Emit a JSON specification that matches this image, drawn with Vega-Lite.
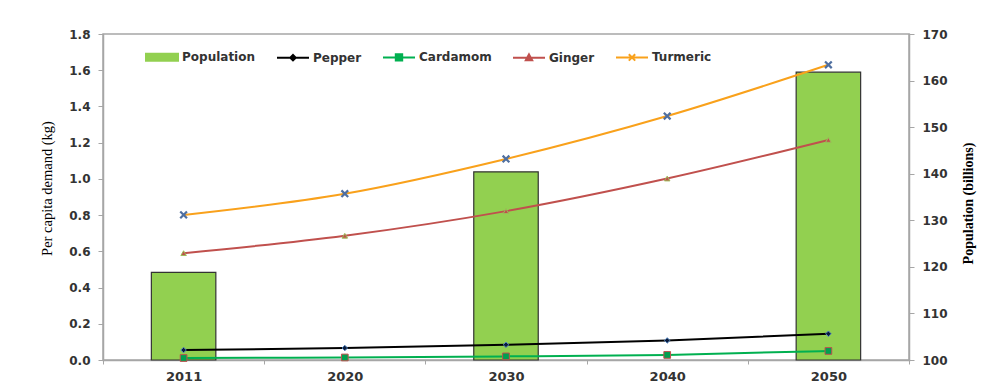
{
  "$schema": "https://vega.github.io/schema/vega-lite/v6.json",
  "autosize": "none",
  "width": 806,
  "height": 326,
  "padding": {"left": 103, "top": 34, "right": 87, "bottom": 29},
  "background": "white",
  "data": {
    "values": [
      {"year": "2011", "series": "Population", "value": 118.8},
      {"year": "2030", "series": "Population", "value": 140.4},
      {"year": "2050", "series": "Population", "value": 161.8},
      {"year": "2011", "series": "Pepper", "value": 0.055},
      {"year": "2020", "series": "Pepper", "value": 0.066},
      {"year": "2030", "series": "Pepper", "value": 0.084},
      {"year": "2040", "series": "Pepper", "value": 0.108},
      {"year": "2050", "series": "Pepper", "value": 0.145},
      {"year": "2011", "series": "Cardamom", "value": 0.011},
      {"year": "2020", "series": "Cardamom", "value": 0.014},
      {"year": "2030", "series": "Cardamom", "value": 0.02},
      {"year": "2040", "series": "Cardamom", "value": 0.028},
      {"year": "2050", "series": "Cardamom", "value": 0.05},
      {"year": "2011", "series": "Ginger", "value": 0.59},
      {"year": "2020", "series": "Ginger", "value": 0.686},
      {"year": "2030", "series": "Ginger", "value": 0.822},
      {"year": "2040", "series": "Ginger", "value": 1.002},
      {"year": "2050", "series": "Ginger", "value": 1.215},
      {"year": "2011", "series": "Turmeric", "value": 0.801},
      {"year": "2020", "series": "Turmeric", "value": 0.918},
      {"year": "2030", "series": "Turmeric", "value": 1.11},
      {"year": "2040", "series": "Turmeric", "value": 1.347},
      {"year": "2050", "series": "Turmeric", "value": 1.63}
    ]
  },
  "encoding": {
    "x": {
      "field": "year",
      "type": "nominal",
      "sort": ["2011", "2020", "2030", "2040", "2050"],
      "scale": {"domain": ["2011", "2020", "2030", "2040", "2050"], "paddingInner": 0, "paddingOuter": 0},
      "axis": {
        "title": null,
        "labelAngle": 0,
        "tickBand": "extent",
        "labelFont": "DejaVu Sans",
        "labelFontWeight": "bold",
        "labelFontSize": 13,
        "labelColor": "#333333",
        "labelPadding": 6,
        "domainColor": "#a6a6a6",
        "domainWidth": 1.5,
        "tickColor": "#a6a6a6",
        "tickSize": 4,
        "grid": false
      }
    },
    "color": {
      "field": "series",
      "type": "nominal",
      "scale": {
        "domain": ["Population", "Pepper", "Cardamom", "Ginger", "Turmeric"],
        "range": ["#92d050", "#000000", "#00b050", "#c0504d", "#f9a11b"]
      },
      "legend": {
        "title": null,
        "orient": "none",
        "direction": "horizontal",
        "legendX": 42,
        "legendY": 6,
        "padding": 0,
        "columnPadding": 17,
        "labelOffset": 3,
        "labelFont": "DejaVu Sans",
        "labelFontWeight": "bold",
        "labelFontSize": 12,
        "labelColor": "#333333",
        "symbolSize": 1024,
        "symbolStrokeWidth": 2,
        "symbolType": {"expr": "datum.value === 'Population' ? 'M-1,-0.22H1V0.22H-1Z' : datum.value === 'Pepper' ? 'M-1,0H1M0,-0.17L0.17,0L0,0.17L-0.17,0Z' : datum.value === 'Cardamom' ? 'M-1,0H1M-0.2,-0.2H0.2V0.2H-0.2Z' : datum.value === 'Ginger' ? 'M-1,0H1M0,-0.2L0.2,0.17H-0.2Z' : 'M-1,0H1M-0.2,-0.2L0.2,0.2M-0.2,0.2L0.2,-0.2'"}
      }
    }
  },
  "layer": [
    {
      "transform": [{"filter": "datum.series === 'Population'"}],
      "mark": {"type": "bar", "width": {"band": 0.4}, "stroke": "#333333", "strokeWidth": 1.2},
      "encoding": {
        "y": {
          "field": "value",
          "type": "quantitative",
          "scale": {"domain": [100, 170], "zero": false, "nice": false},
          "axis": {
            "orient": "right",
            "title": "Population (billions)",
            "values": [100, 110, 120, 130, 140, 150, 160, 170],
            "grid": false,
            "labelFont": "DejaVu Sans",
            "labelFontWeight": "bold",
            "labelFontSize": 12,
            "labelColor": "#333333",
            "labelPadding": 8,
            "domainColor": "#a6a6a6",
            "domainWidth": 1.5,
            "tickColor": "#a6a6a6",
            "tickSize": 5,
            "titleFont": "Liberation Serif",
            "titleFontSize": 14,
            "titleFontWeight": "bold",
            "titleColor": "#000000",
            "titleAngle": -90,
            "titleX": 59,
            "titleY": 169,
            "titleAlign": "center",
            "titleBaseline": "middle"
          }
        },
        "y2": {"datum": 100}
      }
    },
    {
      "transform": [{"filter": "datum.series !== 'Population'"}],
      "encoding": {
        "y": {
          "field": "value",
          "type": "quantitative",
          "scale": {"domain": [0, 1.8], "nice": false},
          "axis": {
            "orient": "left",
            "title": "Per capita demand (kg)",
            "values": [0, 0.2, 0.4, 0.6, 0.8, 1.0, 1.2, 1.4, 1.6, 1.8],
            "format": ".1f",
            "grid": false,
            "labelFont": "DejaVu Sans",
            "labelFontWeight": "bold",
            "labelFontSize": 12,
            "labelColor": "#333333",
            "labelPadding": 8,
            "domainColor": "#a6a6a6",
            "domainWidth": 1.5,
            "tickColor": "#a6a6a6",
            "tickSize": 5,
            "titleFont": "Liberation Serif",
            "titleFontSize": 14.5,
            "titleFontWeight": "normal",
            "titleColor": "#000000",
            "titleAngle": -90,
            "titleX": -56,
            "titleY": 154,
            "titleAlign": "center",
            "titleBaseline": "middle"
          }
        }
      },
      "layer": [
        {
          "mark": {"type": "line", "interpolate": "monotone", "strokeWidth": 2}
        },
        {
          "mark": {"type": "point", "filled": true, "opacity": 1, "strokeWidth": 1},
          "encoding": {
            "shape": {
              "condition": [
                {"test": "datum.series === 'Pepper'", "value": "diamond"},
                {"test": "datum.series === 'Cardamom'", "value": "square"},
                {"test": "datum.series === 'Ginger'", "value": "triangle-up"}
              ],
              "value": "M-1,-1L1,1M-1,1L1,-1"
            },
            "size": {
              "condition": [
                {"test": "datum.series === 'Pepper'", "value": 30},
                {"test": "datum.series === 'Cardamom'", "value": 45},
                {"test": "datum.series === 'Ginger'", "value": 30}
              ],
              "value": 45
            },
            "fill": {
              "condition": [
                {"test": "datum.series === 'Pepper'", "value": "#0a1a3a"},
                {"test": "datum.series === 'Cardamom'", "value": "#00a050"},
                {"test": "datum.series === 'Ginger'", "value": "#c0504d"}
              ],
              "value": "#4f81bd"
            },
            "stroke": {
              "condition": [
                {"test": "datum.series === 'Pepper'", "value": "#4f81bd"},
                {"test": "datum.series === 'Cardamom'", "value": "#c0504d"},
                {"test": "datum.series === 'Ginger'", "value": "#9bbb59"}
              ],
              "value": "#4f6fa0"
            },
            "strokeWidth": {
              "condition": [
                {"test": "datum.series === 'Turmeric'", "value": 2.2}
              ],
              "value": 1
            }
          }
        }
      ]
    }
  ],
  "resolve": {"scale": {"y": "independent"}},
  "config": {
    "view": {"stroke": "#a6a6a6", "strokeWidth": 1.5},
    "axis": {"domainCap": "square"}
  }
}
